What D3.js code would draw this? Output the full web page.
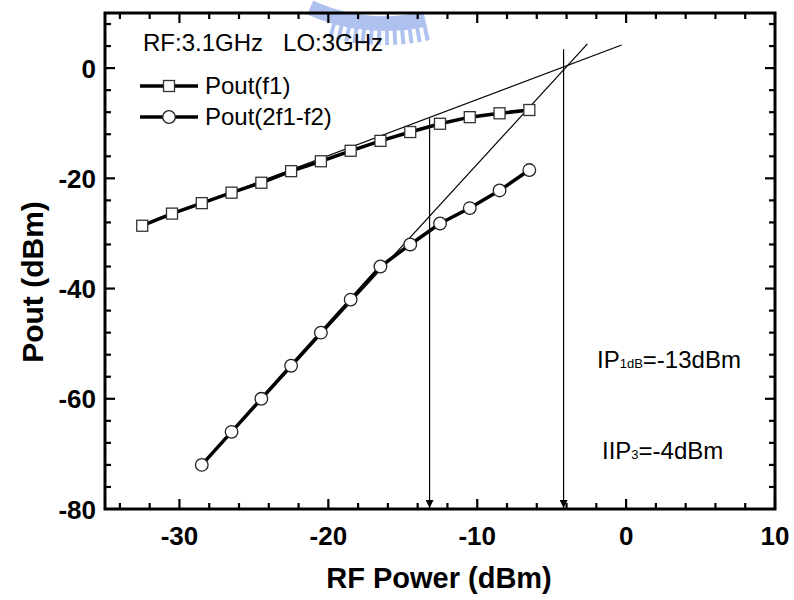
<!doctype html>
<html lang="en">
<head>
<meta charset="utf-8">
<title>Pout vs RF Power</title>
<script src="https://d3js.org/d3.v7.min.js"></script>
<style>
  body { margin: 0; background: #fff; }
  text { font-family: Arial, "Liberation Sans", sans-serif; }
</style>
</head>
<body>
<svg width="794" height="600"></svg>
<script>

// fundamental output, Pout(f1)
var f1Input = [-32.5, -30.5, -28.5, -26.5, -24.5, -22.5, -20.5, -18.5, -16.5, -14.5, -12.5, -10.5, -8.5, -6.5];
var f1Pout = [-28.6, -26.4, -24.5, -22.6, -20.8, -18.7, -16.9, -15.0, -13.2, -11.6, -10.1, -8.9, -8.2, -7.6];

// third order intermod, Pout(2f1-f2)
var im3Input = [-28.5, -26.5, -24.5, -22.5, -20.5, -18.5, -16.5, -14.5, -12.5, -10.5, -8.5, -6.5];
var im3Pout = [-72, -66, -60, -54, -48, -42, -36, -32.0, -28.2, -25.4, -22.2, -18.5];

// extrapolated lines (start / end points)
var f1Fit = [[-32.5, -28.6], [-0.3, 4.2]];
var im3Fit = [[-28.5, -72], [-2.6, 4.4]];

// arrows down to the x axis: [x, top y]
var arrows = [[-13.2, -9.1], [-4.2, 3.4]];

var xTicks = [-30, -20, -10, 0, 10];
var yTicks = [-80, -60, -40, -20, 0];

var plotLeft = 105, plotRight = 775, plotTop = 13, plotBottom = 509;

var svg = d3.select("svg");

var x = d3.scaleLinear().domain([-35, 10]).range([plotLeft, plotRight]);
var y = d3.scaleLinear().domain([-80, 10]).range([plotBottom, plotTop]);

// faint watermark logo at the top (partly cut off)
var logo = svg.append("g").attr("opacity", 0.55).attr("fill", "#6f90e2")
  .attr("transform", "translate(385,-160)");
logo.append("path")
  .attr("d", d3.arc().innerRadius(176).outerRadius(191).startAngle(Math.PI - 0.22).endAngle(Math.PI + 0.42)());
d3.range(Math.PI - 0.22, Math.PI + 0.3, 0.04).forEach(function(a) {
  logo.append("path")
    .attr("d", d3.arc().innerRadius(189).outerRadius(205).startAngle(a).endAngle(a + 0.02)());
});

// ticks, inward on all sides
var xMinor = d3.range(-34, 10.1, 2);
var yMinor = d3.range(-76, 10.1, 4);
function tickLen(v, step) { return Math.abs(v % step) < 1e-6 ? 10 : 6; }

var ticks = svg.append("g").attr("stroke", "#000").attr("stroke-width", 2.2);
xMinor.forEach(function(v) {
  var l = tickLen(v, 10);
  ticks.append("line").attr("x1", x(v)).attr("x2", x(v)).attr("y1", plotBottom).attr("y2", plotBottom - l);
  ticks.append("line").attr("x1", x(v)).attr("x2", x(v)).attr("y1", plotTop).attr("y2", plotTop + l);
});
yMinor.forEach(function(v) {
  var l = tickLen(v, 20);
  ticks.append("line").attr("y1", y(v)).attr("y2", y(v)).attr("x1", plotLeft).attr("x2", plotLeft + l);
  ticks.append("line").attr("y1", y(v)).attr("y2", y(v)).attr("x1", plotRight).attr("x2", plotRight - l);
});

// frame
svg.append("rect")
  .attr("x", plotLeft).attr("y", plotTop)
  .attr("width", plotRight - plotLeft).attr("height", plotBottom - plotTop)
  .attr("fill", "none").attr("stroke", "#000").attr("stroke-width", 3);

// tick labels
svg.append("g").selectAll("text")
  .data(xTicks).enter().append("text")
  .attr("x", function(d) { return x(d); })
  .attr("y", 545)
  .attr("text-anchor", "middle")
  .style("font-size", "26px").style("font-weight", "bold")
  .text(function(d) { return d; });

svg.append("g").selectAll("text")
  .data(yTicks).enter().append("text")
  .attr("x", 96)
  .attr("y", function(d) { return y(d) + 9.5; })
  .attr("text-anchor", "end")
  .style("font-size", "26px").style("font-weight", "bold")
  .text(function(d) { return d; });

// axis titles
svg.append("text")
  .attr("x", 439).attr("y", 588)
  .attr("text-anchor", "middle")
  .style("font-size", "29px").style("font-weight", "bold")
  .text("RF Power (dBm)");
svg.append("text")
  .attr("transform", "translate(43,282) rotate(-90)")
  .attr("text-anchor", "middle")
  .style("font-size", "30px").style("font-weight", "bold")
  .text("Pout (dBm)");

// extrapolation lines
var fitLine = d3.line().x(function(d) { return x(d[0]); }).y(function(d) { return y(d[1]); });
svg.append("path").attr("d", fitLine(f1Fit)).attr("fill", "none").attr("stroke", "#000").attr("stroke-width", 1.2);
svg.append("path").attr("d", fitLine(im3Fit)).attr("fill", "none").attr("stroke", "#000").attr("stroke-width", 1.2);

// arrows
svg.append("defs").append("marker")
  .attr("id", "head")
  .attr("viewBox", "0 0 10 10")
  .attr("refX", 10).attr("refY", 5)
  .attr("markerWidth", 8).attr("markerHeight", 8)
  .attr("markerUnits", "userSpaceOnUse")
  .attr("orient", "auto")
  .append("path").attr("d", "M0,0L10,5L0,10Z").attr("fill", "#000");

svg.selectAll(".arrow")
  .data(arrows).enter().append("line")
  .attr("class", "arrow")
  .attr("x1", function(d) { return x(d[0]); })
  .attr("x2", function(d) { return x(d[0]); })
  .attr("y1", function(d) { return y(d[1]); })
  .attr("y2", plotBottom - 1)
  .attr("stroke", "#000").attr("stroke-width", 1.2)
  .attr("marker-end", "url(#head)");

// data lines
var f1Data = f1Input.map(function(v, i) { return [v, f1Pout[i]]; });
var im3Data = im3Input.map(function(v, i) { return [v, im3Pout[i]]; });

svg.append("path").attr("d", fitLine(f1Data)).attr("fill", "none").attr("stroke", "#000").attr("stroke-width", 3.5);
svg.append("path").attr("d", fitLine(im3Data)).attr("fill", "none").attr("stroke", "#000").attr("stroke-width", 3.5);

svg.selectAll(".sq")
  .data(f1Data).enter().append("rect")
  .attr("class", "sq")
  .attr("x", function(d) { return x(d[0]) - 5.5; })
  .attr("y", function(d) { return y(d[1]) - 5.5; })
  .attr("width", 11).attr("height", 11)
  .attr("fill", "#fff").attr("stroke", "#333").attr("stroke-width", 1.3);

svg.selectAll(".dot")
  .data(im3Data).enter().append("circle")
  .attr("class", "dot")
  .attr("cx", function(d) { return x(d[0]); })
  .attr("cy", function(d) { return y(d[1]); })
  .attr("r", 6.3)
  .attr("fill", "#fff").attr("stroke", "#222").attr("stroke-width", 1.3);

// legend and notes
svg.append("text").attr("x", 143).attr("y", 51).style("font-size", "24px")
  .attr("xml:space", "preserve").text("RF:3.1GHz   LO:3GHz");

var legend = [["Pout(f1)", "sq", 86], ["Pout(2f1-f2)", "dot", 117]];
legend.forEach(function(d) {
  svg.append("line").attr("x1", 140).attr("x2", 198).attr("y1", d[2]).attr("y2", d[2])
    .attr("stroke", "#000").attr("stroke-width", 3.5);
  if (d[1] == "sq") {
    svg.append("rect").attr("x", 169 - 5.5).attr("y", d[2] - 5.5).attr("width", 11).attr("height", 11)
      .attr("fill", "#fff").attr("stroke", "#333").attr("stroke-width", 1.3);
  } else {
    svg.append("circle").attr("cx", 169).attr("cy", d[2]).attr("r", 6.3)
      .attr("fill", "#fff").attr("stroke", "#222").attr("stroke-width", 1.3);
  }
  svg.append("text").attr("x", 205).attr("y", d[2] + 8).style("font-size", "24px").text(d[0]);
});

var ip1 = svg.append("text").attr("x", 597).attr("y", 368).style("font-size", "24px");
ip1.append("tspan").text("IP");
ip1.append("tspan").style("font-size", "13px").text("1dB");
ip1.append("tspan").text("=-13dBm");

var ip3 = svg.append("text").attr("x", 602).attr("y", 459).style("font-size", "24px");
ip3.append("tspan").text("IIP");
ip3.append("tspan").style("font-size", "13px").text("3");
ip3.append("tspan").text("=-4dBm");

</script>
</body>
</html>
